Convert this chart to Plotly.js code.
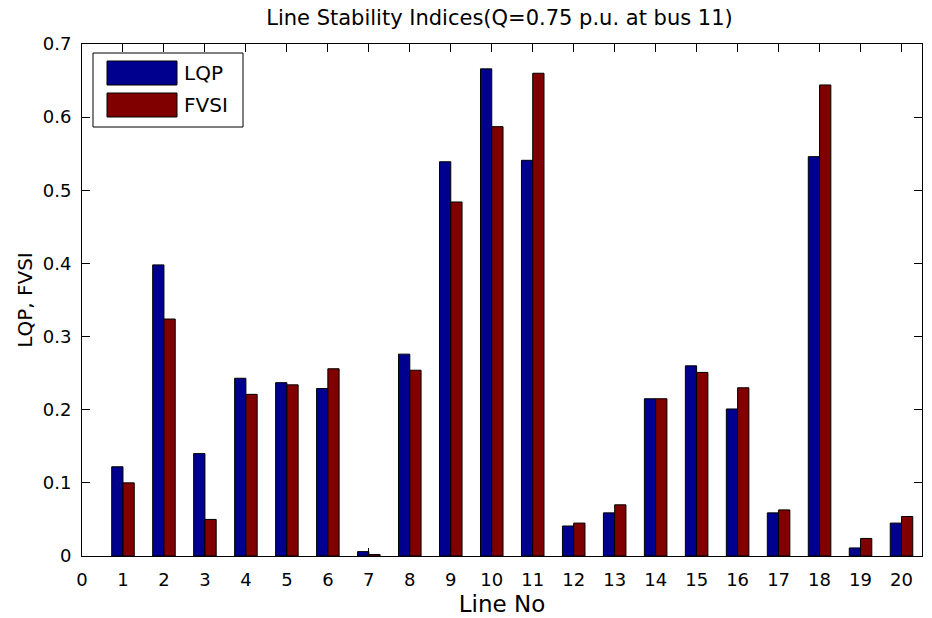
<!DOCTYPE html>
<html>
<head>
<meta charset="utf-8">
<script src="https://cdn.plot.ly/plotly-3.0.1.min.js"></script>
<style>
  html, body { margin: 0; padding: 0; background: #ffffff; }
  #chart { width: 932px; height: 618px; }
</style>
</head>
<body>
<div id="chart"></div>
<script>
// Line numbers of the network
const lineNo = [1, 2, 3, 4, 5, 6, 7, 8, 9, 10, 11, 12, 13, 14, 15, 16, 17, 18, 19, 20];

// Stability index of each line with Q = 0.75 p.u. at bus 11
const lqp  = [0.122, 0.398, 0.140, 0.243, 0.237, 0.229, 0.006, 0.276, 0.539, 0.666,
              0.541, 0.041, 0.059, 0.215, 0.260, 0.201, 0.059, 0.546, 0.011, 0.045];
const fvsi = [0.100, 0.324, 0.050, 0.221, 0.234, 0.256, 0.002, 0.254, 0.484, 0.587,
              0.660, 0.045, 0.070, 0.215, 0.251, 0.230, 0.063, 0.644, 0.024, 0.054];

const seriesNames = ['LQP', 'FVSI'];
const seriesColors = ['#00008f', '#800000'];

const xTicks = [0, 1, 2, 3, 4, 5, 6, 7, 8, 9, 10, 11, 12, 13, 14, 15, 16, 17, 18, 19, 20];
const chartTitle = 'Line Stability Indices(Q=0.75 p.u. at bus 11)';
const xTitle = 'Line No';
const yTitle = 'LQP, FVSI';

const W = 932, H = 618;
const margin = {l: 82, r: 10, t: 44, b: 62};
const plotW = W - margin.l - margin.r;
const plotH = H - margin.t - margin.b;
// pixel position inside the figure -> paper coordinates
const px = x => (x - margin.l) / plotW;
const py = y => (H - margin.b - y) / plotH;

const font = 'DejaVu Sans, Liberation Sans, Arial, sans-serif';

const traces = [lqp, fvsi].map((vals, i) => ({
  type: 'bar',
  x: lineNo,
  y: vals,
  name: seriesNames[i],
  marker: {color: seriesColors[i], line: {color: '#000000', width: 1}},
  hoverinfo: 'x+y+name'
}));

// boxed legend in the upper-left corner
const legendBox = {x0: 93, x1: 243, y0: 53, y1: 127};
const swatch = {x0: 107, x1: 177, h: 24, rows: [61, 93]};
const shapes = [{
  type: 'rect', xref: 'paper', yref: 'paper',
  x0: px(legendBox.x0), x1: px(legendBox.x1), y0: py(legendBox.y1), y1: py(legendBox.y0),
  fillcolor: '#ffffff', line: {color: '#000000', width: 1}
}];
const annotations = [];
seriesNames.forEach((name, i) => {
  const top = swatch.rows[i];
  shapes.push({
    type: 'rect', xref: 'paper', yref: 'paper',
    x0: px(swatch.x0), x1: px(swatch.x1), y0: py(top + swatch.h), y1: py(top),
    fillcolor: seriesColors[i], line: {color: '#000000', width: 1}
  });
  annotations.push({
    xref: 'paper', yref: 'paper', x: px(182), y: py(top + swatch.h / 2),
    xanchor: 'left', yanchor: 'middle', showarrow: false,
    text: name, font: {family: font, size: 20, color: '#000000'}
  });
});

const axisCommon = {
  showline: true, linecolor: '#000000', linewidth: 1, mirror: 'ticks',
  ticks: 'inside', ticklen: 8, tickwidth: 1, tickcolor: '#000000',
  showgrid: false, zeroline: false,
  tickfont: {family: font, size: 18, color: '#000000'}
};

const layout = {
  width: W, height: H,
  margin: margin,
  paper_bgcolor: '#ffffff', plot_bgcolor: '#ffffff',
  font: {family: font, color: '#000000'},
  showlegend: false,
  barmode: 'group', bargap: 0.45, bargroupgap: 0,
  title: {
    text: chartTitle, font: {family: font, size: 21, color: '#000000'},
    xref: 'paper', x: 0.497, xanchor: 'center',
    yref: 'container', y: 1 - 18 / H, yanchor: 'middle'
  },
  xaxis: Object.assign({}, axisCommon, {
    range: [0, 20.5], tickmode: 'array', tickvals: xTicks, ticktext: xTicks.map(String),
    ticklabelstandoff: 7,
    title: {text: xTitle, font: {family: font, size: 23, color: '#000000'}, standoff: 7}
  }),
  yaxis: Object.assign({}, axisCommon, {
    range: [0, 0.7], dtick: 0.1, tick0: 0,
    ticklabelstandoff: 6,
    title: {text: yTitle, font: {family: font, size: 20, color: '#000000'}, standoff: 4}
  }),
  shapes: shapes,
  annotations: annotations
};

Plotly.newPlot('chart', traces, layout, {displayModeBar: false, staticPlot: false});
</script>
</body>
</html>
